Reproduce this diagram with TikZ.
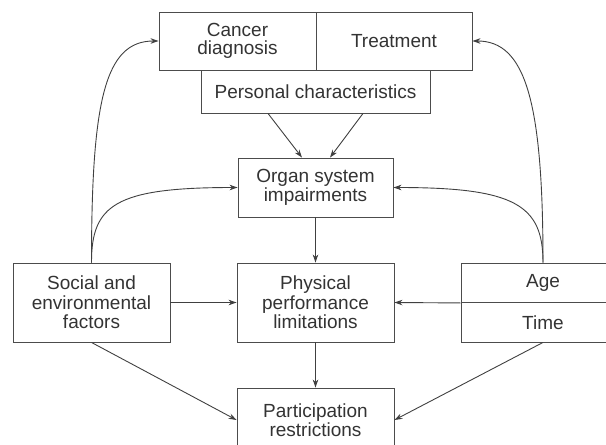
\documentclass[tikz,border=0pt]{standalone}
\usepackage{fontspec}
\setmainfont{Liberation Sans}
\usetikzlibrary{arrows.meta}
\begin{document}
\begin{tikzpicture}[x=1pt,y=-1pt,
  every node/.style={font=\fontsize{19}{19.5}\selectfont, text=black!80},
  box/.style={draw=black!70, line width=0.9pt, rectangle, inner sep=0pt, align=center},
  conn/.style={draw=black!75, line width=0.9pt, -{Stealth[length=8pt,width=5.5pt]}}]
\useasboundingbox (0,0) rectangle (606,445);
\clip (0,0) rectangle (606,445);
% nodes
\node[box, minimum width=157pt, minimum height=58pt] (cd) at (237.5,41) {Cancer\\[-1pt]diagnosis};
\node[box, minimum width=156pt, minimum height=58pt] (tr) at (394,41) {Treatment};
\node[box, minimum width=229pt, minimum height=43pt] (pc) at (315.5,91.5) {Personal characteristics};
\node[box, minimum width=155pt, minimum height=59pt] (organ) at (315.5,187.5) {Organ system\\[-1pt]impairments};
\node[box, minimum width=157pt, minimum height=79pt] (social) at (91.5,302.5) {Social and\\environmental\\factors};
\node[box, minimum width=157pt, minimum height=79pt] (phys) at (315.5,302.5) {Physical\\performance\\limitations};
\node[box, minimum width=164pt, minimum height=39.5pt] (age) at (543,282.75) {Age};
\node[box, minimum width=164pt, minimum height=39.5pt] (time) at (543,322.25) {Time};
\node[box, minimum width=157pt, minimum height=64pt] (part) at (315.5,420) {Participation\\restrictions};
% connectors
\draw[conn] ([xshift=-47.5pt]pc.south) -- ([xshift=-13.5pt]organ.north);
\draw[conn] ([xshift=47.5pt]pc.south) -- ([xshift=14.5pt]organ.north);
\draw[conn] (organ.south) -- (phys.north);
\draw[conn] (social.east) -- (phys.west);
\draw[conn] (age.south west) -- (phys.east);
\draw[conn] (phys.south) -- (part.north);
\draw[conn] (social.south) -- (part.west);
\draw[conn] (time.south) -- (part.east);
\draw[conn] (social.north) .. controls (91.5,100) and (105,41) .. (cd.west);
\draw[conn] (social.north) .. controls (91.5,205) and (115,187.5) .. (organ.west);
\draw[conn] (age.north) .. controls (543,100) and (525,41) .. (tr.east);
\draw[conn] (age.north) .. controls (543,205) and (515,187.5) .. (organ.east);
\end{tikzpicture}
\end{document}
